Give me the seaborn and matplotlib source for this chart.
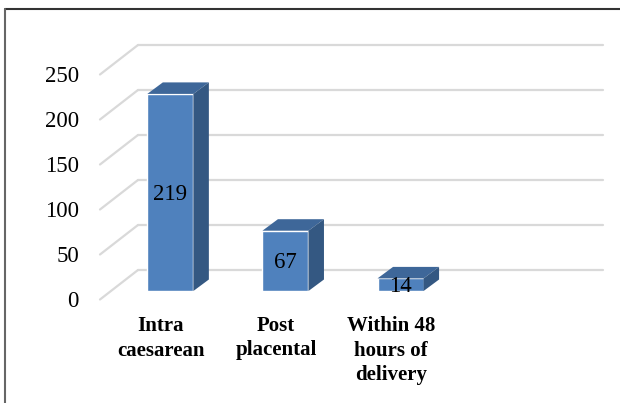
import matplotlib
matplotlib.use("Agg")
import matplotlib.pyplot as plt
from matplotlib.patches import Polygon
from matplotlib.lines import Line2D
import seaborn as sns
import pandas as pd

categories = ["Intra\ncaesarean", "Post\nplacental", "Within 48\nhours of\ndelivery", ""]
counts = [219, 67, 14, 0]
yticks = [0, 50, 100, 150, 200, 250]

sns.set_theme(style="white")
plt.rcParams["font.family"] = ["Liberation Serif", "DejaVu Serif"]

W, H, DPI = 620, 403, 100
fig = plt.figure(figsize=(W / DPI, H / DPI), dpi=DPI)
ax = fig.add_axes([110.5 / W, (H - 291) / H, 465 / W, 225 / H])

df = pd.DataFrame({"category": categories, "count": counts})
sns.barplot(data=df, x="category", y="count", color="#4F81BD", saturation=1,
            width=0.4, ax=ax, zorder=3)
ax.set_xlim(-0.52, 3.52)
ax.set_ylim(0, 250)
ax.axis("off")

TOP_FACE = "#3E6799"
SIDE_FACE = "#345882"
GRID = "#D9D9D9"

# depth offsets in pixels (display coords, y up)
bar_dx, bar_dy = 15.5, 11.5
front_dx, front_dy = -10.5, -8.5
back_dx, back_dy = 27.5, 21.0

fig.canvas.draw()
to_px = ax.transData.transform

# floor diagonals and back-wall gridlines, behind the bars
x_left = to_px((-0.52, 0))[0]
x_right = to_px((3.52, 0))[0]
for t in yticks:
    y = to_px((0, t))[1]
    fig.add_artist(Line2D([x_left + front_dx, x_left + back_dx],
                          [y + front_dy, y + back_dy], transform=None,
                          color=GRID, lw=1.6, zorder=-2))
    fig.add_artist(Line2D([x_left + back_dx, x_right + back_dx],
                          [y + back_dy, y + back_dy], transform=None,
                          color=GRID, lw=1.6, zorder=-2))
    fig.text((x_left + front_dx - 21) / W, (y + front_dy - 2) / H, str(t),
             ha="right", va="center", fontsize=16.5, color="black")

# top and side faces of each bar, with value labels
for patch, val in zip(ax.patches, counts):
    if val <= 0:
        continue
    x0, y0 = patch.get_x(), patch.get_y()
    x1, y1 = x0 + patch.get_width(), y0 + patch.get_height()
    (px0, py0), (px1, py1) = to_px((x0, y0)), to_px((x1, y1))
    top = [(px0, py1), (px1, py1), (px1 + bar_dx, py1 + bar_dy), (px0 + bar_dx, py1 + bar_dy)]
    side = [(px1, py0), (px1 + bar_dx, py0 + bar_dy), (px1 + bar_dx, py1 + bar_dy), (px1, py1)]
    fig.add_artist(Polygon(top, closed=True, transform=None, facecolor=TOP_FACE,
                           edgecolor="none", zorder=4))
    fig.add_artist(Polygon(side, closed=True, transform=None, facecolor=SIDE_FACE,
                           edgecolor="none", zorder=4))
    cx = (px0 + px1) / 2
    cy = (py0 + py1) / 2
    fig.text(cx / W, (cy - 2) / H, str(val), ha="center", va="center",
             fontsize=16.5, color="black", zorder=6)

# category labels on the front edge of the floor
for i, cat in enumerate(categories):
    if not cat:
        continue
    px = to_px((i, 0))[0] + front_dx + 1
    fig.text(px / W, (H - 316) / H, cat, ha="center", va="top", fontsize=15,
             fontweight="bold", color="black", linespacing=1.3)

# chart frame (top and left edges)
fig.add_artist(Line2D([4.5, W], [H - 8.5, H - 8.5], transform=None, color="#333333", lw=1.5))
fig.add_artist(Line2D([4.5, 4.5], [0, H - 8.5], transform=None, color="#666666", lw=1.5))

fig.savefig("out.png", dpi=DPI)
